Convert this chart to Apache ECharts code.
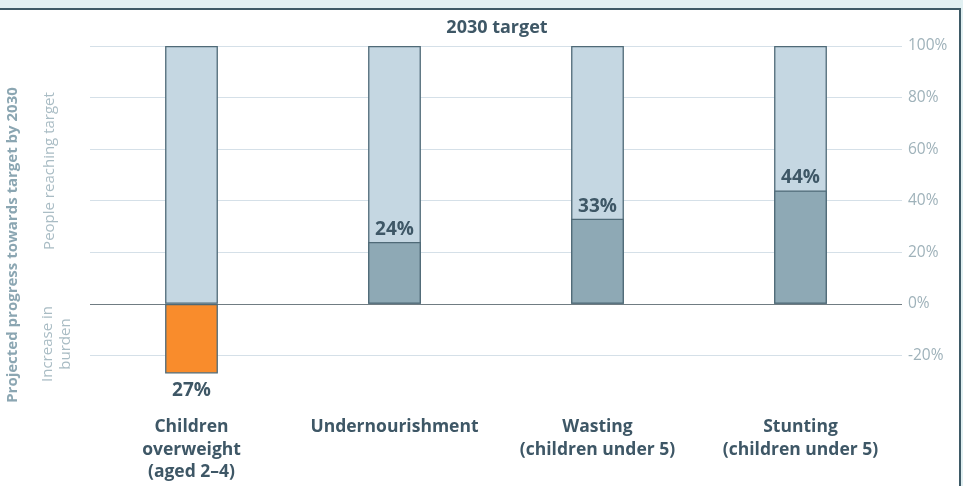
<!DOCTYPE html>
<html>
<head>
<meta charset="utf-8">
<script src="https://cdn.jsdelivr.net/npm/echarts@6/dist/echarts.min.js"></script>
<style>
  html, body { margin: 0; padding: 0; background: #fff; }
  #chart { width: 963px; height: 486px; }
</style>
</head>
<body>
<div id="chart"></div>
<script>
// categories and values
const categories = ['Children\noverweight\n(aged 2\u20134)', 'Undernourishment', 'Wasting\n(children under 5)', 'Stunting\n(children under 5)'];
const targetValues = [100, 100, 100, 100];
const progressValues = [-27, 24, 33, 44];
const yTicks = [-40, -20, 0, 20, 40, 60, 80, 100];

const FONT = 'Open Sans';
const dark = '#3e5766';
const edge = '#4f6a77';

let myChart = echarts.init(document.getElementById('chart'));

// split line colours: hide the -40 line, darker line at 0
const splitColors = yTicks.map(t => (t === -40 ? 'rgba(0,0,0,0)' : t === 0 ? '#707c82' : '#d5e0e8'));

const option = {
  backgroundColor: '#ffffff',
  textStyle: { fontFamily: FONT },
  animation: false,
  grid: { left: 90, right: 61, top: 46, bottom: 79 },
  xAxis: {
    type: 'category',
    data: categories,
    axisLine: { show: false },
    axisTick: { show: false },
    axisLabel: {
      interval: 0,
      color: dark,
      fontWeight: 'bold',
      fontSize: 17.5,
      lineHeight: 22.5,
      margin: 9,
      fontFamily: FONT
    }
  },
  yAxis: {
    type: 'value',
    position: 'right',
    min: -40,
    max: 100,
    interval: 20,
    axisLine: { show: false },
    axisTick: { show: false },
    axisLabel: {
      color: '#9fb2ba',
      fontSize: 15.5,
      margin: 6,
      fontFamily: FONT,
      formatter: v => (v === -40 ? '' : v + '%')
    },
    splitLine: { show: true, lineStyle: { color: splitColors, width: 1 } }
  },
  series: [
    {
      name: 'target',
      type: 'bar',
      data: targetValues,
      barWidth: '26%',
      itemStyle: { color: '#c5d7e2', borderColor: edge, borderWidth: 1.3 },
      z: 2
    },
    {
      name: 'progress',
      type: 'bar',
      barGap: '-100%',
      barWidth: '26%',
      data: progressValues.map(v => ({
        value: v,
        itemStyle: { color: v < 0 ? '#f98c2c' : '#8ea9b5' },
        label: v < 0 ? { position: 'bottom', distance: 8 } : { position: 'top', distance: 3 }
      })),
      itemStyle: { borderColor: edge, borderWidth: 1.3 },
      label: {
        show: true,
        color: dark,
        fontWeight: 'bold',
        fontSize: 19,
        fontFamily: FONT,
        formatter: p => Math.abs(p.value) + '%'
      },
      z: 3
    }
  ],
  graphic: [
    { type: 'rect', shape: { x: 0, y: 0, width: 963, height: 9 }, style: { fill: '#e1f0f2' }, silent: true },
    { type: 'rect', shape: { x: 0, y: 8, width: 963, height: 2 }, style: { fill: '#3e5a66' }, silent: true },
    { type: 'rect', shape: { x: 959, y: 8, width: 2, height: 478 }, style: { fill: '#3e5a66' }, silent: true },
    { type: 'rect', shape: { x: 961, y: 0, width: 2, height: 486 }, style: { fill: '#e1f0f2' }, silent: true },
    {
      type: 'text', x: 497, y: 28,
      style: { text: '2030 target', fill: dark, font: 'bold 18px "Open Sans"', textAlign: 'center', textVerticalAlign: 'middle' }
    },
    {
      type: 'text', x: 13, y: 245, rotation: Math.PI / 2,
      style: { text: 'Projected progress towards target by 2030', fill: '#8ba6b2', font: 'bold 15px "Open Sans"', textAlign: 'center', textVerticalAlign: 'middle' }
    },
    {
      type: 'text', x: 50, y: 171, rotation: Math.PI / 2,
      style: { text: 'People reaching target', fill: '#a9bcc4', font: '15px "Open Sans"', textAlign: 'center', textVerticalAlign: 'middle' }
    },
    {
      type: 'text', x: 57, y: 344, rotation: Math.PI / 2,
      style: { text: 'Increase in\nburden', fill: '#a9bcc4', font: '15px "Open Sans"', lineHeight: 18, textAlign: 'center', textVerticalAlign: 'middle' }
    }
  ]
};

myChart.setOption(option, true);
window.addEventListener('resize', () => {
  myChart.resize();
});
</script>
</body>
</html>
